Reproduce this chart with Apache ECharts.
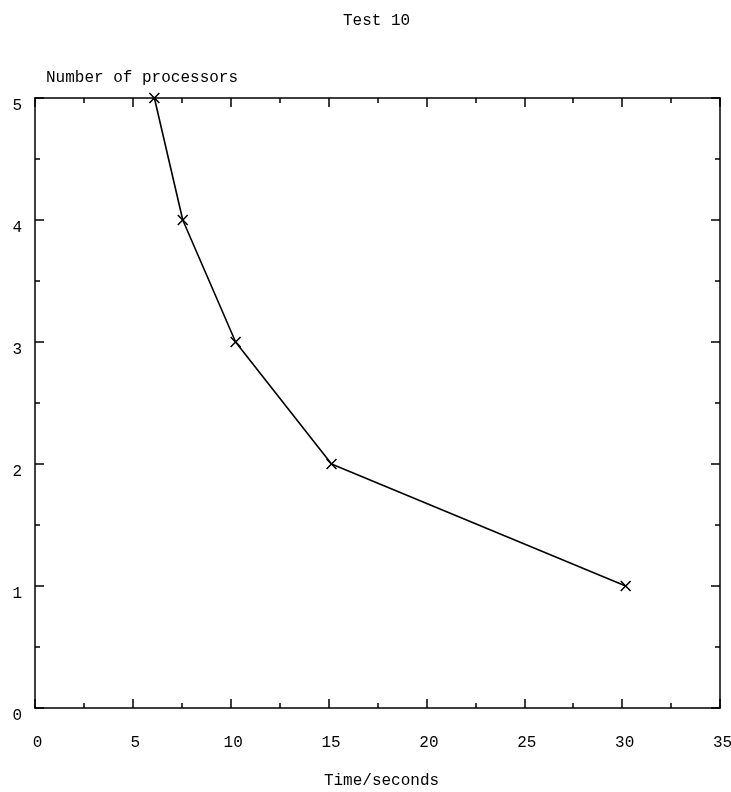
<!DOCTYPE html>
<html>
<head>
<meta charset="utf-8">
<script src="https://cdn.jsdelivr.net/npm/echarts@6/dist/echarts.min.js"></script>
<style>
  html, body { margin: 0; padding: 0; background: #fff; }
  #chart { width: 731px; height: 792px; }
</style>
</head>
<body>
<div id="chart"></div>
<script>
  const timeSeconds = [6.1, 7.55, 10.25, 15.15, 30.18];
  const processors = [5, 4, 3, 2, 1];

  const font = "'Liberation Mono', 'DejaVu Sans Mono', monospace";
  const crossPath = "path://M0,1L1,0L5,4L9,0L10,1L6,5L10,9L9,10L5,6L1,10L0,9L4,5Z";

  const chart = echarts.init(document.getElementById("chart"));

  const tickBits = {
    axisLine: { show: true, onZero: false, lineStyle: { color: "#000", width: 1.5 } },
    axisTick: { show: true, inside: true, length: 9, lineStyle: { color: "#000", width: 1.5 } },
    minorTick: { show: true, splitNumber: 2, length: 5, lineStyle: { color: "#000", width: 1.5 } },
    splitLine: { show: false }
  };

  chart.setOption({
    animation: false,
    backgroundColor: "#fff",
    title: {
      text: "Test 10",
      left: 338,
      top: 8,
      textStyle: { fontFamily: font, fontSize: 16, fontWeight: "normal", color: "#000" }
    },
    grid: { left: 35, right: 11, top: 98, bottom: 84, outerBoundsMode: "none", containLabel: false },
    xAxis: [
      Object.assign({
        type: "value",
        min: 0, max: 35, interval: 5,
        name: "Time/seconds",
        nameLocation: "middle",
        nameGap: 65,
        nameTextStyle: { fontFamily: font, fontSize: 16, color: "#000", padding: [0, 0, 0, 8] },
        axisLabel: { fontFamily: font, fontSize: 16, color: "#000", margin: 27, padding: [0, 0, 0, 5] }
      }, tickBits),
      Object.assign({
        type: "value", position: "top",
        min: 0, max: 35, interval: 5,
        axisLabel: { show: false }
      }, tickBits)
    ],
    yAxis: [
      Object.assign({
        type: "value",
        min: 0, max: 5, interval: 1,
        name: "Number of processors",
        nameLocation: "end",
        nameGap: 12,
        nameTextStyle: { fontFamily: font, fontSize: 16, color: "#000", align: "left", padding: [0, 0, 0, 11] },
        axisLabel: { fontFamily: font, fontSize: 16, color: "#000", margin: 13, verticalAlign: "top" }
      }, tickBits),
      Object.assign({
        type: "value", position: "right",
        min: 0, max: 5, interval: 1,
        axisLabel: { show: false }
      }, tickBits)
    ],
    series: [{
      type: "line",
      data: timeSeconds.map((t, i) => [t, processors[i]]),
      symbol: crossPath,
      symbolSize: 11,
      showSymbol: true,
      clip: false,
      lineStyle: { color: "#000", width: 1.6 },
      itemStyle: { color: "#000" }
    }]
  });
</script>
</body>
</html>
